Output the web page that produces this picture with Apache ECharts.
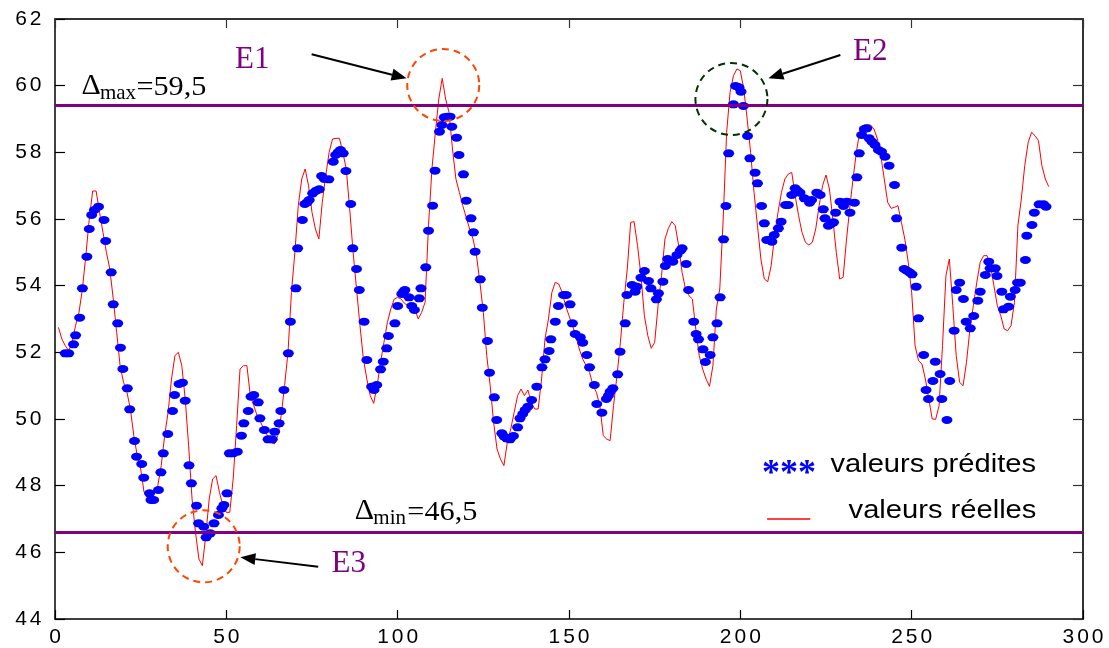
<!DOCTYPE html>
<html><head><meta charset="utf-8">
<script src="https://cdn.jsdelivr.net/npm/echarts@6/dist/echarts.min.js"></script>
<style>html,body{margin:0;padding:0;background:#fff}#c{width:1109px;height:648px}</style>
</head><body><div id="c"></div>
<script>
// ---------- data ----------
const xTicks = [0, 50, 100, 150, 200, 250, 300];
const yTicks = [44, 46, 48, 50, 52, 54, 56, 58, 60, 62];
const realStartX = 1; // real values at x = 1..290
const realY = [
52.75,52.4,52.2,52.05,52.3,52.8,53.2,53.9,54.9,56.0,
56.84,56.84,56.2,55.6,55.0,54.5,53.6,52.6,51.6,51.1,
50.8,50.3,49.5,48.9,48.5,47.8,47.8,47.8,47.8,48.0,
48.6,49.5,50.2,51.2,51.9,52.0,51.6,50.6,49.2,47.6,
46.6,45.8,45.6,46.5,47.6,48.2,48.3,47.8,47.4,47.2,
47.2,48.2,49.8,51.5,51.6,51.6,50.7,50.4,50.1,49.9,
49.7,49.5,49.3,49.25,49.5,50.1,51.0,52.0,53.8,55.0,
56.4,57.2,57.5,57.0,56.2,55.7,55.4,56.5,57.3,58.0,
58.4,58.42,58.42,58.0,57.5,56.3,55.0,53.9,52.8,51.8,
51.2,50.7,50.47,51.0,51.7,52.3,52.9,53.3,53.6,53.65,
53.6,53.47,53.4,53.35,53.3,53.0,53.2,53.5,55.8,57.5,
58.6,59.6,60.22,59.6,59.2,58.1,57.2,56.8,56.4,56.05,
55.7,55.4,54.9,54.1,53.2,51.9,51.0,49.9,49.1,48.8,
48.6,49.3,49.7,50.2,50.7,50.9,50.7,50.87,50.5,50.3,
50.3,51.2,52.4,53.0,53.8,54.1,54.05,53.8,53.4,53.1,
52.8,52.5,52.1,51.8,51.6,51.4,51.0,50.8,50.4,49.5,
49.4,49.35,50.4,51.3,52.3,53.5,54.5,55.9,55.92,55.2,
54.3,53.1,52.5,52.12,52.3,53.4,54.3,55.4,55.72,55.92,
55.8,55.2,54.4,53.9,53.7,53.6,52.7,51.9,51.5,51.2,
50.98,51.6,53.3,53.9,56.0,58.6,59.8,60.3,60.5,60.45,
59.9,59.0,58.0,56.8,55.8,54.8,54.2,54.12,54.6,55.5,
56.2,56.8,57.2,57.35,57.4,56.7,56.1,55.6,55.3,55.22,
55.3,55.7,56.4,57.0,57.32,56.9,56.0,55.0,54.2,54.25,
55.4,56.4,57.3,58.1,58.7,58.82,58.82,58.82,58.7,58.4,
57.9,57.2,56.5,56.32,56.35,56.4,55.9,55.4,54.7,53.8,
52.2,51.75,51.65,51.2,50.6,50.0,49.99,50.4,52.2,54.3,
54.8,53.4,51.9,51.1,51.0,51.7,52.7,53.4,54.1,54.7,
54.9,54.9,54.6,54.0,53.4,53.1,52.7,52.65,52.8,53.5,
55.8,56.6,57.6,58.3,58.6,58.5,58.35,57.6,57.2,56.97
];
const predX = [
3,4,5.4,6,7.2,8,9.3,10,10.7,11.5,12.7,14.3,14.8,16.4,17,18.3,19.1,19.8,21.1,21.8,
23.2,23.8,25.3,25.9,27.6,28,28.8,30.2,30.9,31.6,32.9,34.3,34.9,36.2,37.2,38,39.1,39.8,41.3,41.9,
43.4,44.1,45.3,46.4,47.7,48.7,49.3,50.2,50.9,51.9,53.2,54.4,55.1,56.4,57.2,58,59.3,59.8,61.1,62.2,
63.4,64.1,65.4,65.9,66.8,68.1,68.7,70.3,70.8,72.2,72.9,73.6,74.2,75.2,76.2,77.1,77.8,78.6,79.9,81.2,
81.9,82.6,83.3,84.1,84.9,86.3,86.9,88,88.8,90.2,91,92.4,93.1,93.9,95,95.8,96.8,97.3,99.2,100,
101.2,101.7,102.1,103.3,104.1,104.9,106.3,106.8,108.2,109,110.2,110.9,112.2,112.9,113.6,114.5,115.3,115.8,117.2,117.9,
119.2,120,121.4,122.1,122.6,124.1,124.7,126.2,126.8,128.2,128.9,130.4,131.1,131.8,132.8,133.8,135,135.7,136.5,137.2,
138,139.1,140.6,142.1,143,144.2,144.7,146,146.9,148.4,149.2,150.3,151,151.8,153.3,154,155.2,156,157.4,158.1,
159.6,160.9,161.5,162,162.8,164.2,164.9,166.4,166.9,168.4,169.3,169.8,171,172,173.2,173.9,175.5,176.1,177.4,178.1,
178.8,179.6,180.3,181.5,182.5,183,184.2,184.9,186.4,187.1,187.8,189.1,189.8,191.2,192,193.2,194.1,195.1,195.8,196.6,
198,198.6,199.6,200.2,200.9,202.1,202.8,204.3,205,206.2,207,207.7,208.5,209.2,209.9,211.1,211.9,213.2,214,215,
216,216.7,217.4,218.7,220.2,220.8,222.3,223.3,224.2,224.7,225.7,226.5,227.2,227.8,229.1,230.1,231.1,232,233.3,234,
234.7,235.4,236.2,236.9,237.6,238.4,239.3,240.3,241.2,242.2,243.4,245,245.6,247.1,247.8,248.6,249.4,250.1,251.3,252,
253.5,254.2,254.9,256.2,256.9,258.3,258.8,260.3,261.1,262.4,263,264,265.1,265.9,267.1,268.1,269.3,270,271.5,272.5,
272.9,274.4,274.9,276.3,276.8,278.3,278.8,280.2,280.9,281.7,283.2,283.6,285.1,285.8,287.2,288.5,289.2
];
const predY = [
51.97,51.97,52.24,52.51,53.04,53.92,54.87,55.7,56.12,56.27,56.37,55.97,55.34,54.4,53.44,52.87,52.14,51.5,50.92,50.29,
49.34,48.87,48.65,48.24,47.77,47.57,47.57,47.87,48.4,48.97,49.55,50.24,50.72,51.05,51.09,50.55,48.61,48.07,47.4,46.87,
46.77,46.45,46.57,46.87,47.12,47.32,47.42,47.77,48.97,48.97,49.02,49.5,49.87,50.24,50.67,50.72,50.5,50.02,49.67,49.39,
49.39,49.62,49.87,50.24,50.87,51.97,52.92,53.92,55.12,55.97,56.45,56.5,56.57,56.77,56.85,56.89,57.29,57.2,57.19,57.72,
57.92,58.0,58.07,57.97,57.44,56.45,55.12,54.5,53.87,52.92,51.77,50.97,50.87,51.02,51.49,51.72,52.12,52.49,52.87,53.39,
53.75,53.82,53.87,53.65,53.39,53.27,53.62,53.92,54.55,55.65,56.4,57.45,58.62,58.82,59.05,59.07,59.07,58.77,58.44,57.92,
57.34,56.55,56.02,55.6,55.02,54.19,53.34,52.34,51.39,50.65,49.97,49.57,49.47,49.42,49.39,49.49,49.75,50.02,50.15,50.27,
50.37,50.57,50.97,51.55,51.79,52.04,52.39,52.92,53.39,53.72,53.72,53.44,52.87,52.55,52.45,52.29,51.92,51.55,51.02,50.45,
50.19,50.6,50.7,50.82,50.92,51.34,52.02,52.87,53.72,54.02,53.82,53.97,54.24,54.44,54.14,53.92,53.59,53.77,54.12,54.59,
54.8,54.75,54.72,54.92,55.05,55.12,54.65,53.87,52.92,52.55,52.39,52.09,51.71,51.92,52.45,52.87,53.65,55.39,56.39,57.97,
59.44,59.99,59.95,59.82,59.39,58.49,57.82,57.39,57.07,56.39,55.87,55.37,55.37,55.32,55.52,55.72,55.92,56.42,56.42,56.72,
56.92,56.85,56.79,56.62,56.49,56.57,56.79,56.72,56.29,56.02,55.8,55.85,55.9,56.19,56.52,56.39,56.52,56.19,56.49,57.25,
57.97,58.52,58.7,58.72,58.42,58.32,58.22,58.07,58.02,57.87,57.6,57.02,56.02,55.14,54.5,54.45,54.4,54.34,53.97,53.02,
51.92,50.87,50.6,51.14,51.72,51.35,50.6,49.97,51.14,52.65,53.87,54.09,53.6,52.92,52.72,53.09,53.55,53.82,54.32,54.72,
54.52,54.52,54.29,53.82,53.29,53.37,53.67,53.87,54.09,54.09,54.77,55.5,55.82,56.19,56.44,56.44,56.37
];
const deltaMaxLevel = 59.4;   // drawn level of the Δmax line
const deltaMinLevel = 46.6;   // drawn level of the Δmin line
const deltaMaxText = '=59,5';
const deltaMinText = '=46,5';
const legendTexts = ['valeurs prédites', 'valeurs réelles'];

// ---------- chart ----------
const realData = realY.map((v, i) => [realStartX + i, v]);
const predData = predX.map((x, i) => [x, predY[i]]);

const SANS = '"Liberation Sans", Arial, sans-serif';
const SERIF = '"Liberation Serif", "Times New Roman", serif';
const spaced = v => String(v).split('').map(c => '{d|' + c + '}').join('');
const tickRich = { d: { fontSize: 21, fontFamily: SANS, color: '#000', padding: [0, 1.5, 0, 1.5] } };

const chart = echarts.init(document.getElementById('c'), null, { renderer: 'canvas' });
chart.setOption({
  animation: false,
  backgroundColor: '#fff',
  grid: { left: 55, right: 26, top: 19, bottom: 29, containLabel: false },
  xAxis: [
    { type: 'value', position: 'bottom', min: xTicks[0], max: xTicks[xTicks.length - 1], interval: 50,
      axisLine: { onZero: false, lineStyle: { color: '#000', width: 1.5 } },
      axisTick: { inside: true, length: 9, lineStyle: { color: '#000', width: 1.2 } },
      axisLabel: { margin: 8, formatter: spaced, rich: tickRich },
      splitLine: { show: false } },
    { type: 'value', position: 'top', min: xTicks[0], max: xTicks[xTicks.length - 1], interval: 50,
      axisLine: { onZero: false, lineStyle: { color: '#333', width: 2 } },
      axisTick: { inside: true, length: 9, lineStyle: { color: '#333', width: 1.2 } },
      axisLabel: { show: false }, splitLine: { show: false } }
  ],
  yAxis: [
    { type: 'value', position: 'left', min: yTicks[0], max: yTicks[yTicks.length - 1], interval: 2,
      axisLine: { show: true, onZero: false, lineStyle: { color: '#000', width: 1.5 } },
      axisTick: { show: true, inside: true, length: 10, lineStyle: { color: '#000', width: 1.2 } },
      axisLabel: { margin: 12, formatter: spaced, rich: tickRich },
      splitLine: { show: false } },
    { type: 'value', position: 'right', min: yTicks[0], max: yTicks[yTicks.length - 1], interval: 2,
      axisLine: { show: true, onZero: false, lineStyle: { color: '#333', width: 2 } },
      axisTick: { show: true, inside: true, length: 10, lineStyle: { color: '#333', width: 1.2 } },
      axisLabel: { show: false }, splitLine: { show: false } }
  ],
  series: [
    { type: 'line', xAxisIndex: 0, yAxisIndex: 0, data: realData, symbol: 'none', showSymbol: false,
      lineStyle: { color: '#FF0000', width: 1 }, z: 2,
      markLine: { silent: true, symbol: 'none', label: { show: false },
        lineStyle: { color: '#800080', width: 3, type: 'solid' },
        data: [{ yAxis: deltaMaxLevel }, { yAxis: deltaMinLevel }] } },
    { type: 'scatter', xAxisIndex: 0, yAxisIndex: 0, data: predData, symbol: 'circle', symbolSize: [11, 8],
      itemStyle: { color: '#0000FF', opacity: 1 }, z: 3 }
  ]
});

// ---------- annotations (anchored in data coordinates) ----------
const P = p => chart.convertToPixel({ xAxisIndex: 0, yAxisIndex: 0 }, p);
const circles = [
  { c: [113.3, 60.02], color: '#FF4500' },
  { c: [197.4, 59.6], color: '#003300' },
  { c: [43.4, 46.18], color: '#FF4500' }
];
const arrows = [
  { from: [74.9, 60.94], to: [102.6, 60.22] },
  { from: [229.2, 60.92], to: [208.2, 60.22] },
  { from: [76.8, 45.57], to: [54.1, 45.85] }
];
const eLabels = [
  { t: 'E1', at: [52.55, 60.47] },
  { t: 'E2', at: [232.9, 60.70] },
  { t: 'E3', at: [80.7, 45.35] }
];
const g = [];
function txt(x, baseline, text, fs, fam, color, sx, weight) {
  return { type: 'text', x: x, y: baseline - 0.34 * fs, scaleX: sx || 1, silent: true, z: 100,
    style: { text: text, fontSize: fs, fontFamily: fam, fill: color, fontWeight: weight || 'normal',
      align: 'left', verticalAlign: 'middle' } };
}
circles.forEach(o => {
  const p = P(o.c);
  g.push({ type: 'circle', shape: { cx: p[0], cy: p[1], r: 36 }, silent: true, z: 90,
    style: { fill: null, stroke: o.color, lineWidth: 2, lineDash: [7, 5] } });
});
arrows.forEach(o => {
  const a = P(o.from), b = P(o.to);
  const dx = b[0] - a[0], dy = b[1] - a[1], L = Math.hypot(dx, dy);
  const ux = dx / L, uy = dy / L, hl = 15, hw = 6;
  const bx = b[0] - ux * hl, by = b[1] - uy * hl;
  g.push({ type: 'line', shape: { x1: a[0], y1: a[1], x2: bx, y2: by }, silent: true, z: 90,
    style: { stroke: '#000', lineWidth: 2 } });
  g.push({ type: 'polygon', shape: { points: [[b[0], b[1]], [bx - uy * hw, by + ux * hw], [bx + uy * hw, by - ux * hw]] },
    silent: true, z: 90, style: { fill: '#000' } });
});
eLabels.forEach(o => {
  const p = P(o.at);
  g.push(txt(p[0], p[1], o.t, 31, SERIF, '#800080'));
});
// Δ labels
function deltaLabel(at, sub, val) {
  const p = P(at);
  g.push(txt(p[0], p[1], 'Δ', 30, SERIF, '#000'));
  g.push(txt(p[0] + 18.5, p[1] + 3.5, sub, 21, SERIF, '#000'));
  g.push(txt(p[0] + 18.5 + (sub === 'max' ? 36.5 : 34), p[1], val, 27, SERIF, '#000', 1.12));
}
deltaLabel([7.7, 59.67], 'max', deltaMaxText);
deltaLabel([87.5, 46.92], 'min', deltaMinText);
// legend
let p = P([206.3, 47.95]);
g.push(txt(p[0], p[1], '***', 36, SERIF, '#0000FF', 1, 'bold'));
p = P([226.3, 48.35]);
g.push(txt(p[0], p[1], legendTexts[0], 26, SANS, '#000', 1.12));
const l1 = P([207.8, 47.0]), l2 = P([220.4, 47.0]);
g.push({ type: 'line', shape: { x1: l1[0], y1: l1[1], x2: l2[0], y2: l2[1] }, silent: true, z: 90,
  style: { stroke: '#FF0000', lineWidth: 1.5 } });
p = P([231.6, 46.97]);
g.push(txt(p[0], p[1], legendTexts[1], 26, SANS, '#000', 1.12));

chart.setOption({ graphic: { elements: g } });
</script>
</body></html>
